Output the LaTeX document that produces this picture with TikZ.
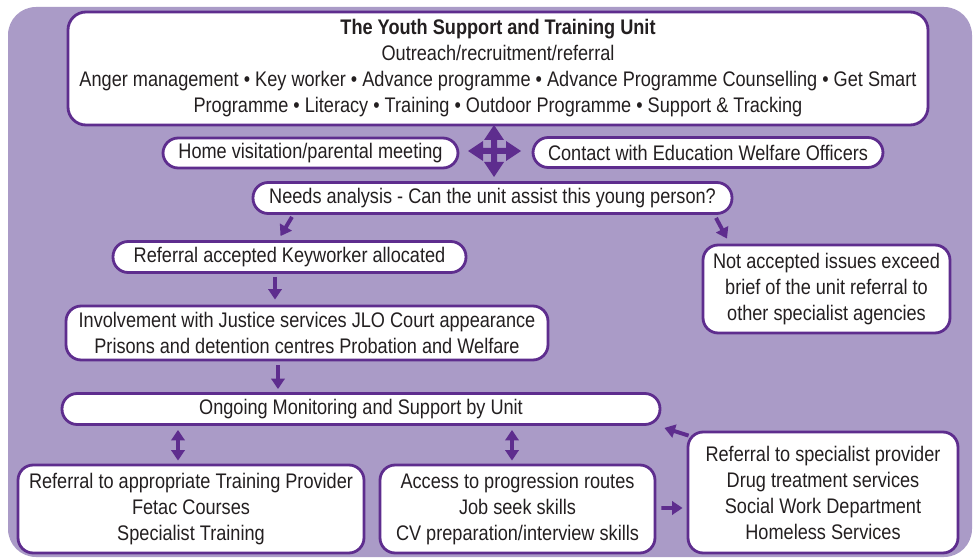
\documentclass[tikz,border=0pt]{standalone}
\usepackage{fontspec}
\setmainfont{Liberation Sans}[FakeStretch=0.86]
\usetikzlibrary{arrows.meta,calc}
\definecolor{bgpurple}{HTML}{AA9BC7}
\definecolor{edgepurple}{HTML}{5E2D8E}
\definecolor{inktext}{HTML}{231F20}
\begin{document}
\begin{tikzpicture}[x=0.025cm,y=-0.025cm,
  box/.style={draw=edgepurple, line width=2pt, fill=white, rounded corners=0.38cm,
    align=center, inner sep=0pt, text=inktext,
    font=\fontsize{15}{18.5}\selectfont},
  flow/.style={draw=edgepurple, line width=2.8pt,
    -{Triangle[length=7.5pt,width=9.5pt]}},
  twoway/.style={draw=edgepurple, line width=2.8pt,
    {Triangle[length=7.5pt,width=9.5pt]}-{Triangle[length=7.5pt,width=9.5pt]}}]
\useasboundingbox (0,0) rectangle (976,558);
% background panel
\fill[bgpurple, rounded corners=0.7cm] (8,7) rectangle (972,557);

% boxes
\node[box, minimum width=860*0.025cm, minimum height=113*0.025cm, rounded corners=0.45cm] (unit) at (498,68.5)
  {{\bfseries The Youth Support and Training Unit}\\
   Outreach/recruitment/referral\\
   Anger management \textbullet{} Key worker \textbullet{} Advance programme \textbullet{} Advance Programme Counselling \textbullet{} Get Smart\\
   Programme \textbullet{} Literacy \textbullet{} Training \textbullet{} Outdoor Programme \textbullet{} Support \& Tracking};
\node[box, minimum width=295*0.025cm, minimum height=30*0.025cm] (home) at (310.5,153)
  {Home visitation/parental meeting};
\node[box, minimum width=350*0.025cm, minimum height=30*0.025cm] (ewo) at (708,152.5)
  {Contact with Education Welfare Officers};
\node[box, minimum width=479*0.025cm, minimum height=31*0.025cm] (needs) at (492.5,198)
  {Needs analysis - Can the unit assist this young person?};
\node[box, minimum width=353*0.025cm, minimum height=31*0.025cm] (accepted) at (289.5,257)
  {Referral accepted Keyworker allocated};
\node[box, minimum width=247*0.025cm, minimum height=88*0.025cm] (notacc) at (826.5,289)
  {Not accepted issues exceed\\ brief of the unit referral to\\ other specialist agencies};
\node[box, minimum width=482*0.025cm, minimum height=54*0.025cm] (justice) at (307,333)
  {Involvement with Justice services JLO Court appearance\\ Prisons and detention centres Probation and Welfare};
\node[box, minimum width=598*0.025cm, minimum height=31*0.025cm] (ongoing) at (361,409)
  {Ongoing Monitoring and Support by Unit};
\node[box, minimum width=346*0.025cm, minimum height=88*0.025cm] (training) at (191,509)
  {Referral to appropriate Training Provider\\ Fetac Courses\\ Specialist Training};
\node[box, minimum width=275*0.025cm, minimum height=88*0.025cm] (access) at (517.5,509)
  {Access to progression routes\\ Job seek skills\\ CV preparation/interview skills};
\node[box, minimum width=270*0.025cm, minimum height=121*0.025cm] (special) at (823,492.5)
  {Referral to specialist provider\\ Drug treatment services\\ Social Work Department\\ Homeless Services};

% four-way arrow between the two contact boxes, drawn as one solid glyph
\coordinate (hub) at (494,151);
\fill[edgepurple, shift={(hub)}]
  (0,-26) -- (10,-11) -- (3,-11) -- (3,-3) -- (12,-3) -- (12,-10) -- (27,0)
  -- (12,10) -- (12,3) -- (3,3) -- (3,11) -- (10,11) -- (0,26)
  -- (-10,11) -- (-3,11) -- (-3,3) -- (-11,3) -- (-11,10) -- (-26,0)
  -- (-11,-10) -- (-11,-3) -- (-3,-3) -- (-3,-11) -- (-10,-11) -- cycle;

% flow arrows
\draw[flow] ($(needs.south)+(-200.5,2)$) -- ($(accepted.north)+(-9,-4)$);
\draw[flow] ($(needs.south)+(223.5,3)$) -- ($(notacc.north)+(-99.5,-5)$);
\draw[flow] ($(accepted.south)+(-14.5,3)$) -- ($(justice.north)+(-32,-5)$);
\draw[flow] ($(justice.south)+(-29,4)$) -- ($(ongoing.north)+(-83,-3)$);
\draw[twoway] ($(ongoing.south)+(-183,4)$) -- ($(training.north)+(-13,-3)$);
\draw[twoway] ($(ongoing.south)+(151,4)$) -- ($(access.north)+(-5.5,-3)$);
\draw[flow] ($(special.north west)+(2,5)$) -- ($(ongoing.south east)+(3,2)$);
\draw[flow] ($(access.east)+(5,-1)$) -- ($(special.west)+(-4,15.5)$);
\end{tikzpicture}
\end{document}
